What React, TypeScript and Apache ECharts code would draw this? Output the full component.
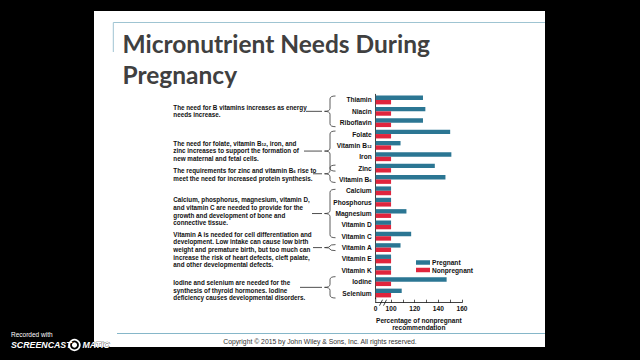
import React, { useEffect, useRef } from "react";
import * as echarts from "echarts";

// ---------- data ----------
const categories = [
  "Thiamin", "Niacin", "Riboflavin", "Folate", "Vitamin B12", "Iron", "Zinc", "Vitamin B6",
  "Calcium", "Phosphorus", "Magnesium", "Vitamin D", "Vitamin C", "Vitamin A", "Vitamin E",
  "Vitamin K", "Iodine", "Selenium",
];
const pregnant = [127, 129, 127, 150, 108, 151, 137, 146, 100, 100, 113, 100, 117, 108, 100, 100, 147, 109];
const nonpregnant = [100, 100, 100, 100, 100, 100, 100, 100, 100, 100, 100, 100, 100, 100, 100, 100, 100, 100];
const seriesNames = ["Pregnant", "Nonpregnant"];
const axisBreakValue = 87; // shown as "0" (broken axis)
const xLabelValues = [87, 100, 120, 140, 160];
const xTickValues = [100, 110, 120, 130, 140, 150, 160];

const notes = [
  { from: "Thiamin", to: "Riboflavin", text: "The need for B vitamins increases as energy\nneeds increase." },
  { from: "Folate", to: "Zinc", text: "The need for folate, vitamin B{sub|12}, iron, and\nzinc increases to support the formation of\nnew maternal and fetal cells." },
  { from: "Zinc", to: "Vitamin B6", text: "The requirements for zinc and vitamin B{sub|6} rise to\nmeet the need for increased protein synthesis." },
  { from: "Calcium", to: "Vitamin C", text: "Calcium, phosphorus, magnesium, vitamin D,\nand vitamin C are needed to provide for the\ngrowth and development of bone and\nconnective tissue." },
  { from: "Vitamin A", to: "Vitamin A", text: "Vitamin A is needed for cell differentiation and\ndevelopment. Low intake can cause low birth\nweight and premature birth, but too much can\nincrease the risk of heart defects, cleft palate,\nand other developmental defects." },
  { from: "Iodine", to: "Selenium", text: "Iodine and selenium are needed for the\nsynthesis of thyroid hormones. Iodine\ndeficiency causes developmental disorders." },
];

// ---------- layout (positions only) ----------
const noteFirstLineY = [107.3, 143.3, 170.7, 200, 234.3, 282.7];
const noteConnectorX = [306, 304, 313, 312, 313, 300];
const notePad = [4, 3, 3, 1.5, 3, 5];
const LINE_H = 7.6;
const GRID = { left: 375.7, width: 86.3, top: 94.3, height: 204.4 };
const X_OFFSET = 4;
const BLUE = "#2b7693";
const RED = "#e0253d";
const FONT = "'Liberation Sans', Arial, sans-serif";

const Brace = echarts.graphic.extendShape({
  shape: { x: 0, y1: 0, y2: 10, w: 10 },
  buildPath(ctx: any, s: any) {
    const { x, y1, y2, w } = s;
    const ym = (y1 + y2) / 2;
    const sx = x + w * 0.5;
    const ex = x + w;
    const r = Math.min(3, (y2 - y1) / 4);
    ctx.moveTo(ex, y1);
    ctx.quadraticCurveTo(sx, y1, sx, y1 + r);
    ctx.lineTo(sx, ym - r);
    ctx.quadraticCurveTo(sx, ym, x, ym);
    ctx.quadraticCurveTo(sx, ym, sx, ym + r);
    ctx.lineTo(sx, y2 - r);
    ctx.quadraticCurveTo(sx, y2, ex, y2);
  },
});
echarts.graphic.registerShape("brace", Brace);

const subRich = {
  sub: { fontSize: 4.3, fontWeight: "bold", fontFamily: FONT, color: "#111", padding: [3, 0, 0, 0] },
};

export default function App() {
  const ref = useRef<HTMLDivElement>(null);
  useEffect(() => {
    document.body.style.margin = "0";
    const chart = echarts.init(ref.current!, null, { renderer: "svg" });
    chart.setOption({
      animation: false,
      backgroundColor: "#000",
      grid: { left: GRID.left, top: GRID.top, width: GRID.width, height: GRID.height, outerBoundsMode: "none" },
      legend: {
        data: seriesNames,
        orient: "vertical",
        left: 411,
        top: 254,
        itemWidth: 14,
        itemHeight: 4.5,
        itemGap: 0.5,
        icon: "rect",
        textStyle: { fontSize: 6.6, fontWeight: "bold", fontFamily: FONT, color: "#111", lineHeight: 6, padding: [0, 0, 0, -3] },
      },
      xAxis: {
        type: "value",
        min: axisBreakValue,
        max: 160,
        offset: X_OFFSET,
        axisLine: { show: true, lineStyle: { color: "#111", width: 0.8 } },
        axisTick: { show: true, inside: true, length: 3, customValues: xTickValues, lineStyle: { color: "#111", width: 0.7 } },
        axisLabel: {
          customValues: xLabelValues,
          formatter: (v: number) => (v <= axisBreakValue ? "0" : String(v)),
          fontSize: 6.6, fontWeight: "bold", fontFamily: FONT, color: "#111", margin: 2,
        },
        splitLine: { show: false },
        name: "Percentage of nonpregnant\nrecommendation",
        nameLocation: "middle",
        nameGap: 11,
        nameTextStyle: { fontSize: 6.6, fontWeight: "bold", fontFamily: FONT, color: "#111", lineHeight: 7.5, verticalAlign: "top" },
      },
      yAxis: {
        type: "category",
        data: categories,
        inverse: true,
        axisLine: { show: true, lineStyle: { color: "#111", width: 0.8 } },
        axisTick: { show: false },
        axisLabel: {
          fontSize: 6.6, fontWeight: "bold", fontFamily: FONT, color: "#111", margin: 4,
          formatter: (v: string) => v.replace(/B(12|6)$/, "B{sub|$1}"),
          rich: subRich,
        },
      },
      series: [
        { name: seriesNames[0], type: "bar", data: pregnant, barWidth: 4.4, barGap: "0%", itemStyle: { color: BLUE } },
        { name: seriesNames[1], type: "bar", data: nonpregnant, barWidth: 4.4, barGap: "0%", itemStyle: { color: RED } },
      ],
    });

    const yOf = (c: string) => chart.convertToPixel({ yAxisIndex: 0 }, c) as number;
    const axisY = GRID.top + GRID.height + X_OFFSET;
    const breakX = chart.convertToPixel({ xAxisIndex: 0 }, 93.2) as number;
    const originX = chart.convertToPixel({ xAxisIndex: 0 }, axisBreakValue) as number;

    const textStyle = (extra: any) => ({
      fontFamily: FONT, fontWeight: "bold", fill: "#111", ...extra,
    });

    const graphics: any[] = [
      { type: "rect", z: -10, shape: { x: 94, y: 11, width: 451, height: 336 }, style: { fill: "#fff" } },
      // title accents
      { type: "line", shape: { x1: 113.3, y1: 22.5, x2: 545, y2: 22.5 }, style: { stroke: "#9fc4d2", lineWidth: 1 } },
      { type: "line", shape: { x1: 113.3, y1: 22.5, x2: 113.3, y2: 52 }, style: { stroke: "#9fc4d2", lineWidth: 1 } },
      { type: "text", x: 122.5, y: 43.5, style: { text: "Micronutrient Needs During", fontFamily: "Lato, 'Open Sans', sans-serif", fontWeight: "bold", fontSize: 24.5, fill: "#404040", verticalAlign: "middle" } },
      { type: "text", x: 122.5, y: 74, style: { text: "Pregnancy", fontFamily: "Lato, 'Open Sans', sans-serif", fontWeight: "bold", fontSize: 24.5, fill: "#404040", verticalAlign: "middle" } },
      // footer
      { type: "line", shape: { x1: 117, y1: 333.5, x2: 545, y2: 333.5 }, style: { stroke: "#86b7c9", lineWidth: 1 } },
      { type: "text", x: 320, y: 341.7, style: { text: "Copyright © 2015 by John Wiley & Sons, Inc. All rights reserved.", fontFamily: FONT, fontSize: 6.8, fill: "#333", align: "center", verticalAlign: "middle" } },
      // axis join and break
      { type: "line", shape: { x1: originX, y1: GRID.top + GRID.height - 1, x2: originX, y2: axisY }, style: { stroke: "#111", lineWidth: 0.8 } },
      { type: "rect", shape: { x: breakX - 2, y: axisY - 1, width: 4, height: 2 }, style: { fill: "#fff" } },
      { type: "line", shape: { x1: breakX - 3.5, y1: axisY + 3, x2: breakX - 0.5, y2: axisY - 3 }, style: { stroke: "#111", lineWidth: 0.8 } },
      { type: "line", shape: { x1: breakX + 0.5, y1: axisY + 3, x2: breakX + 3.5, y2: axisY - 3 }, style: { stroke: "#111", lineWidth: 0.8 } },
      // Screencast-O-Matic mark
      { type: "text", x: 11, y: 334.3, style: { text: "Recorded with", fontFamily: FONT, fontSize: 6.5, fill: "#fff", verticalAlign: "middle" } },
      { type: "text", x: 11, y: 345.3, style: { text: "SCREENCAST", fontFamily: FONT, fontSize: 8.8, fontWeight: "bold", fontStyle: "italic", fill: "#fff", verticalAlign: "middle" } },
      { type: "ring", shape: { cx: 74.5, cy: 345, r: 6.2, r0: 4.4 }, style: { fill: "#fff" } },
      { type: "circle", shape: { cx: 74.5, cy: 345, r: 2.6 }, style: { fill: "#fff" } },
      { type: "text", x: 82.5, y: 345.3, style: { text: "MATIC", fontFamily: FONT, fontSize: 8.8, fontWeight: "bold", fontStyle: "italic", fill: "#fff", stroke: "#000", lineWidth: 0.5, verticalAlign: "middle" } },
    ];

    notes.forEach((n, i) => {
      const y1 = yOf(n.from) - notePad[i];
      const y2 = yOf(n.to) + notePad[i];
      const ym = (y1 + y2) / 2;
      graphics.push({
        type: "text", x: 173.3, y: noteFirstLineY[i] - LINE_H / 2,
        style: textStyle({ text: n.text, fontSize: 6.3, lineHeight: LINE_H, verticalAlign: "top", rich: { sub: { fontSize: 4.3, fontWeight: "bold", fontFamily: FONT, fill: "#111", padding: [2.5, 0, 0, 0] } } }),
      });
      graphics.push({ type: "line", shape: { x1: noteConnectorX[i], y1: ym, x2: 322, y2: ym }, style: { stroke: "#222", lineWidth: 0.8 } });
      graphics.push({ type: "brace", shape: { x: 324.5, y1, y2, w: 11 }, style: { stroke: "#333", fill: "none", lineWidth: 0.8 } });
    });

    chart.setOption({ graphic: graphics });
    return () => chart.dispose();
  }, []);
  return <div ref={ref} style={{ width: 640, height: 360 }} />;
}
